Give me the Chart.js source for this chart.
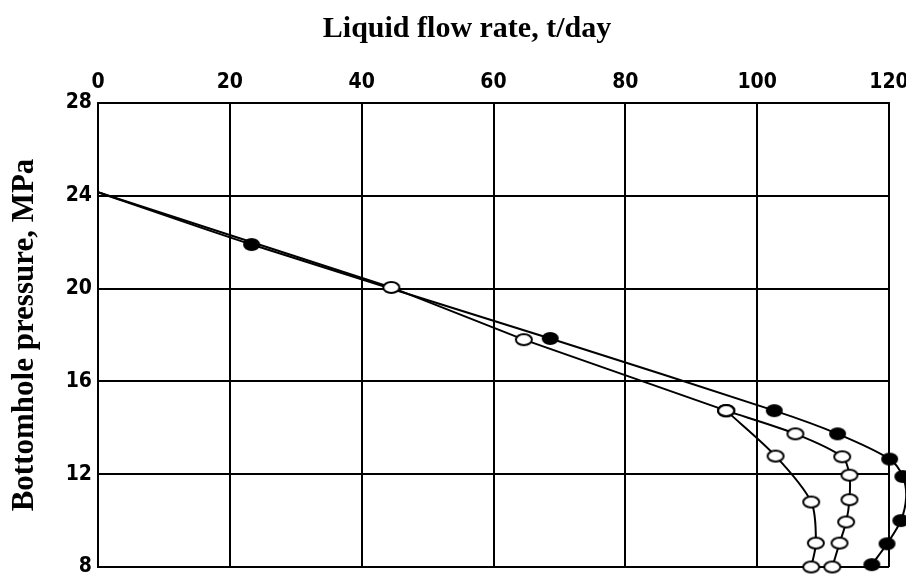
<!DOCTYPE html>
<html><head><meta charset="utf-8">
<script src="https://cdn.jsdelivr.net/npm/chart.js@4"></script>
<style>html,body{margin:0;padding:0;background:#fff;overflow:hidden}#wrap{width:906px;height:575px;position:relative}</style>
</head><body><div id="wrap"><canvas id="c" width="906" height="575"></canvas></div>
<script>
const chartTitle = 'Liquid flow rate, t/day';
const yTitle = 'Bottomhole pressure, MPa';
const xTickValues = [0, 20, 40, 60, 80, 100, 120];
const yTickValues = [8, 12, 16, 20, 24, 28];

// filled-marker curve
const filledRate = [0, 23.3, 68.6, 102.6, 112.2, 120.1, 122.1, 122.6, 121.8, 119.7, 117.4];
const filledPressure = [24.15, 21.9, 17.85, 14.74, 13.74, 12.65, 11.9, 11.0, 10.0, 9.0, 8.1];
// open-marker curve, common straight part
const openRate = [0, 44.5, 64.6, 95.3];
const openPressure = [24.15, 20.05, 17.8, 14.74];
// open-marker branch A (left)
const openARate = [95.3, 102.8, 108.2, 108.9, 108.2];
const openAPressure = [14.74, 12.78, 10.8, 9.03, 8.0];
// open-marker branch B (right)
const openBRate = [95.3, 105.8, 112.9, 114.0, 114.0, 113.5, 112.5, 111.4];
const openBPressure = [14.74, 13.74, 12.75, 11.96, 10.9, 9.94, 9.03, 8.0];

function ellipseMarker(w, h, fill) {
  const c = document.createElement('canvas');
  c.width = w + 4; c.height = h + 4;
  const g = c.getContext('2d');
  g.beginPath();
  g.ellipse(c.width / 2, c.height / 2, w / 2, h / 2, 0, 0, Math.PI * 2);
  g.fillStyle = fill; g.fill();
  g.lineWidth = 2; g.strokeStyle = '#000'; g.stroke();
  return c;
}
const openMark = ellipseMarker(16, 11, '#fff');
const filledMark = ellipseMarker(15, 11, '#000');

function pts(xs, ys) { return xs.map((x, i) => ({ x: x, y: ys[i] })); }
function radii(xs, skipFirst) { return xs.map((x, i) => (skipFirst && i === 0 ? 0 : 12)); }

const tickFont = { family: "'Liberation Sans Narrow', 'DejaVu Sans Condensed', 'Arial Narrow', sans-serif", size: 21, weight: 'bold', lineHeight: 1 };

const topTitle = {
  id: 'topTitle',
  afterDraw(chart) {
    const ctx = chart.ctx;
    ctx.save();
    ctx.font = "bold 30px 'Liberation Serif', 'Times New Roman', serif";
    ctx.fillStyle = '#000';
    ctx.textAlign = 'center';
    ctx.textBaseline = 'alphabetic';
    ctx.fillText(chartTitle, 467, 37);
    ctx.restore();
  }
};

function noPad(s) {
  s.paddingLeft = 0; s.paddingRight = 0; s.paddingTop = 0; s.paddingBottom = 0;
}

const lineCommon = { showLine: true, borderColor: '#000', borderWidth: 2, clip: false, fill: false };

new Chart(document.getElementById('c'), {
  type: 'scatter',
  data: {
    datasets: [
      Object.assign({ label: 'A', data: pts(openARate, openAPressure), pointStyle: openMark, pointRadius: radii(openARate, false), tension: 0.3 }, lineCommon),
      Object.assign({ label: 'B', data: pts(openBRate, openBPressure), pointStyle: openMark, pointRadius: radii(openBRate, false), tension: 0.3 }, lineCommon),
      Object.assign({ label: 'open', data: pts(openRate, openPressure), pointStyle: openMark, pointRadius: radii(openRate, true), tension: 0 }, lineCommon),
      Object.assign({ label: 'filled', data: pts(filledRate, filledPressure), pointStyle: filledMark, pointRadius: radii(filledRate, true), tension: 0.3 }, lineCommon)
    ]
  },
  options: {
    responsive: false,
    animation: false,
    devicePixelRatio: 1,
    events: [],
    layout: { autoPadding: false, padding: { left: 0, right: 17, top: 0, bottom: 8 } },
    plugins: { legend: { display: false }, tooltip: { enabled: false }, title: { display: false } },
    scales: {
      x: {
        type: 'linear', position: 'top', min: 0, max: 120,
        afterBuildTicks: (s) => { s.ticks = xTickValues.map(v => ({ value: v })); },
        afterFit: (s) => { s.height = 103; noPad(s); },
        ticks: { color: '#000', font: tickFont, padding: 10 },
        grid: { color: '#000', lineWidth: 2, drawTicks: false },
        border: { color: '#000', width: 2 }
      },
      y: {
        type: 'linear', position: 'left', min: 8, max: 28,
        afterBuildTicks: (s) => { s.ticks = yTickValues.map(v => ({ value: v })); },
        afterFit: (s) => { s.width = 98; noPad(s); },
        ticks: { color: '#000', font: tickFont, padding: 6 },
        grid: { color: '#000', lineWidth: 2, drawTicks: false },
        border: { color: '#000', width: 2 },
        title: { display: true, text: yTitle, color: '#000', padding: { top: 6, bottom: 0 },
                 font: { family: "'Liberation Serif', 'Times New Roman', serif", size: 31, weight: 'bold' } }
      }
    }
  },
  plugins: [topTitle]
});
</script></body></html>
